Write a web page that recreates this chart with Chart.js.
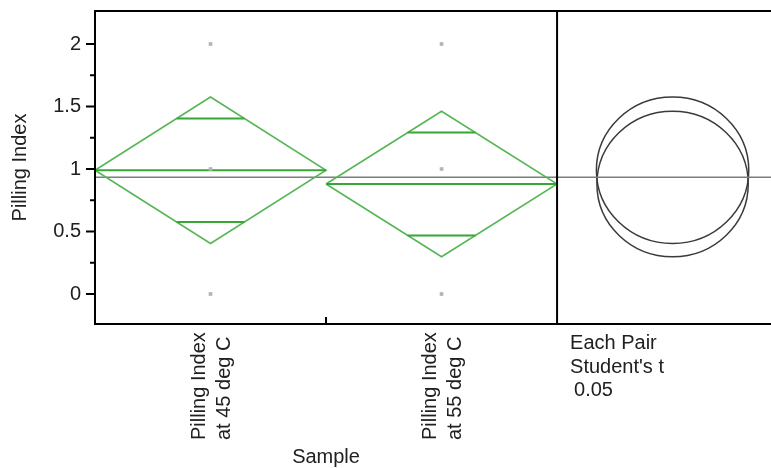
<!DOCTYPE html>
<html>
<head>
<meta charset="utf-8">
<script src="https://cdn.jsdelivr.net/npm/chart.js@4.4.1/dist/chart.umd.min.js"></script>
<style>
  html, body { margin: 0; padding: 0; background: #fff; }
  #wrap { width: 771px; height: 468px; }
</style>
</head>
<body>
<div id="wrap"><canvas id="c" width="771" height="468"></canvas></div>
<script>
// Oneway analysis of Pilling Index by Sample: means diamonds + comparison circles
const groupLabels = [['Pilling Index', 'at 45 deg C'], ['Pilling Index', 'at 55 deg C']];
const groupMeans = [0.99, 0.88];
const ciHalfWidths = [0.586, 0.582];          // 95% CI half-widths of the means
const observations = [[0, 1, 2], [0, 1, 2]];  // distinct observed values per sample
const grandMean = 0.935;
const yTickValues = [0, 0.5, 1, 1.5, 2];
const yTickLabels = ['0', '0.5', '1', '1.5', '2'];
const yTitle = 'Pilling Index';
const xTitle = 'Sample';
const compareNotes = ['Each Pair', "Student's t", '0.05'];

const Y_MIN = -0.24, Y_MAX = 2.264;
const X_MAX = 2.926;      // groups occupy [0,2], comparison panel to the right
const CIRCLE_X = 2.5;
const CIRCLE_ASPECT = 1.04;
const FONT = '"Liberation Sans", Arial, sans-serif';
const TEXT = '#202020';
const DIAMOND = '#55b655';
const MEANLINE = '#38a538';

const datasets = [];

// observations (drawn on top)
datasets.push({
  data: observations.flatMap((vals, i) => vals.map(v => ({ x: i + 0.5, y: v }))),
  showLine: false,
  pointStyle: 'rect',
  pointRadius: 2.6,
  backgroundColor: '#b4b4b4',
  borderColor: '#b4b4b4',
  borderWidth: 0
});

groupMeans.forEach((m, i) => {
  const h = ciHalfWidths[i];
  const d = h / Math.SQRT2;                 // overlap marks
  const w = 0.5 * (1 - d / h);              // half-width of the diamond at that height
  const line = (pts, color, width) => ({
    data: pts, showLine: true, pointRadius: 0, borderColor: color,
    borderWidth: width, fill: false, tension: 0, clip: false
  });
  datasets.push(line([{ x: i, y: m }, { x: i + 1, y: m }], MEANLINE, 2));
  datasets.push(line([{ x: i + 0.5 - w, y: m + d }, { x: i + 0.5 + w, y: m + d }], MEANLINE, 2));
  datasets.push(line([{ x: i + 0.5 - w, y: m - d }, { x: i + 0.5 + w, y: m - d }], MEANLINE, 2));
  datasets.push(line([
    { x: i, y: m }, { x: i + 0.5, y: m + h }, { x: i + 1, y: m },
    { x: i + 0.5, y: m - h }, { x: i, y: m }
  ], DIAMOND, 1.5));
});

// grand mean across both panels (drawn first)
datasets.push({
  data: [{ x: 0, y: grandMean }, { x: X_MAX, y: grandMean }],
  showLine: true, pointRadius: 0, borderColor: '#7d7d7d', borderWidth: 1.5
});

const decorations = {
  id: 'decorations',
  beforeDatasetsDraw(chart) {
    const { ctx, scales: { x, y } } = chart;
    ctx.save();
    ctx.strokeStyle = '#3a3a3a';
    ctx.lineWidth = 1.5;
    groupMeans.forEach((m, i) => {
      const cy = y.getPixelForValue(m);
      const ry = Math.abs(y.getPixelForValue(m + ciHalfWidths[i]) - cy);
      ctx.beginPath();
      ctx.ellipse(x.getPixelForValue(CIRCLE_X), cy, ry * CIRCLE_ASPECT, ry, 0, 0, Math.PI * 2);
      ctx.stroke();
    });
    ctx.restore();
  },
  afterDraw(chart) {
    const { ctx, chartArea: a, scales: { x, y } } = chart;
    ctx.save();
    ctx.strokeStyle = '#000';
    ctx.lineWidth = 2;
    ctx.beginPath();
    ctx.moveTo(a.left, a.top); ctx.lineTo(a.right, a.top);
    ctx.moveTo(a.left, a.bottom); ctx.lineTo(a.right, a.bottom);
    ctx.moveTo(a.left, a.top - 1); ctx.lineTo(a.left, a.bottom + 1);
    const sep = x.getPixelForValue(groupMeans.length);
    ctx.moveTo(sep, a.top); ctx.lineTo(sep, a.bottom);
    // y tick marks, major and minor
    yTickValues.forEach((v, i) => {
      const py = y.getPixelForValue(v);
      ctx.moveTo(a.left - 9, py); ctx.lineTo(a.left, py);
      if (i < yTickValues.length - 1) {
        const pm = y.getPixelForValue((v + yTickValues[i + 1]) / 2);
        ctx.moveTo(a.left - 5, pm); ctx.lineTo(a.left, pm);
      }
    });
    // x tick between groups
    for (let i = 1; i < groupMeans.length; i++) {
      const px = x.getPixelForValue(i);
      ctx.moveTo(px, a.bottom); ctx.lineTo(px, a.bottom - 7);
    }
    ctx.stroke();

    ctx.fillStyle = TEXT;
    ctx.font = '20px ' + FONT;
    ctx.textBaseline = 'alphabetic';

    // y title
    ctx.save();
    ctx.translate(26, (a.top + a.bottom) / 2);
    ctx.rotate(-Math.PI / 2);
    ctx.textAlign = 'center';
    ctx.fillText(yTitle, 0, 0);
    ctx.restore();

    // group labels, rotated
    groupLabels.forEach((lines, i) => {
      const cx = x.getPixelForValue(i + 0.5);
      ctx.save();
      ctx.translate(cx, 440);
      ctx.rotate(-Math.PI / 2);
      ctx.textAlign = 'left';
      lines.forEach((t, k) => ctx.fillText(t, 0, -6 + k * 25));
      ctx.restore();
    });

    // x title
    ctx.textAlign = 'center';
    ctx.fillText(xTitle, (x.getPixelForValue(0) + x.getPixelForValue(groupMeans.length)) / 2, 463);

    // comparison notes
    ctx.textAlign = 'left';
    const nx = sep + 13;
    compareNotes.forEach((t, k) => ctx.fillText(t, nx + (k === 2 ? 4 : 0), 349 + k * 23.5));
    ctx.restore();
  }
};

new Chart(document.getElementById('c'), {
  type: 'scatter',
  data: { datasets },
  options: {
    responsive: false,
    animation: false,
    devicePixelRatio: 1,
    layout: { autoPadding: false, padding: { top: 11, bottom: 144, left: 0, right: 0 } },
    plugins: { legend: { display: false }, tooltip: { enabled: false } },
    scales: {
      x: { type: 'linear', min: 0, max: X_MAX, display: false },
      y: {
        type: 'linear', min: Y_MIN, max: Y_MAX,
        afterBuildTicks: s => { s.ticks = yTickValues.map(v => ({ value: v })); },
        afterFit: s => { s.width = 95; s.paddingTop = 0; s.paddingBottom = 0; },
        grid: { display: false, drawTicks: false },
        border: { display: false },
        ticks: {
          padding: 14, color: TEXT,
          font: { family: FONT, size: 20 },
          callback: (v, i) => yTickLabels[i]
        }
      }
    }
  },
  plugins: [decorations]
});
</script>
</body>
</html>
